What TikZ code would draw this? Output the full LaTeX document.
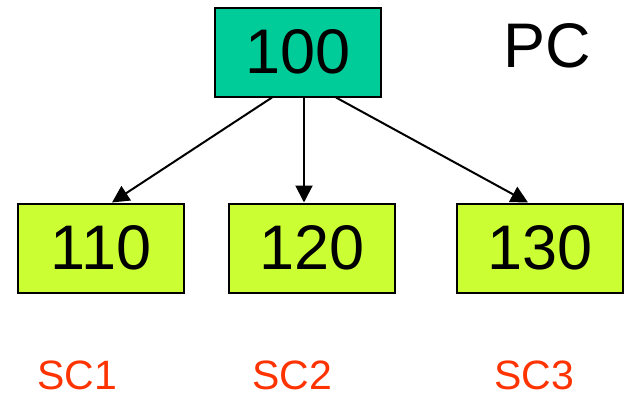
\documentclass[tikz,border=0pt]{standalone}
\usepackage{fontspec}
\setmainfont{Liberation Sans}
\usetikzlibrary{arrows.meta}
\definecolor{pcgreen}{HTML}{00CC99}
\definecolor{scgreen}{HTML}{CCFF33}
\definecolor{scred}{HTML}{FF3300}
\begin{document}
\begin{tikzpicture}[x=1pt,y=-1pt,
  box/.style={draw=black,line width=2pt,minimum width=166pt,minimum height=89pt,inner sep=0pt,
    font=\fontsize{63}{70}\selectfont},
  pcbox/.style={box,fill=pcgreen},
  scbox/.style={box,fill=scgreen},
  lab/.style={anchor=base,inner sep=0pt,font=\fontsize{41}{48}\selectfont,text=scred},
  conn/.style={line width=2pt,-{Triangle[length=17pt,width=17pt]}}]
\useasboundingbox (0,0) rectangle (625,399);
\node[pcbox] (pc) at (298,52) {100};
\node[scbox] (s1) at (101,248) {110};
\node[scbox] (s2) at (312,248) {120};
\node[scbox] (s3) at (540,248) {130};
\node[anchor=base,font=\fontsize{63}{70}\selectfont] (pclab) at (547,67) {PC};
\node[lab] (l1) at (77,389) {SC1};
\node[lab] (l2) at (292,389) {SC2};
\node[lab] (l3) at (534,389) {SC3};
\draw[conn] ([xshift=58pt]pc.south west) -- ([xshift=95pt]s1.north west);
\draw[conn] ([xshift=90pt]pc.south west) -- ([xshift=76pt]s2.north west);
\draw[conn] ([xshift=122pt]pc.south west) -- ([xshift=72pt]s3.north west);
\end{tikzpicture}
\end{document}
